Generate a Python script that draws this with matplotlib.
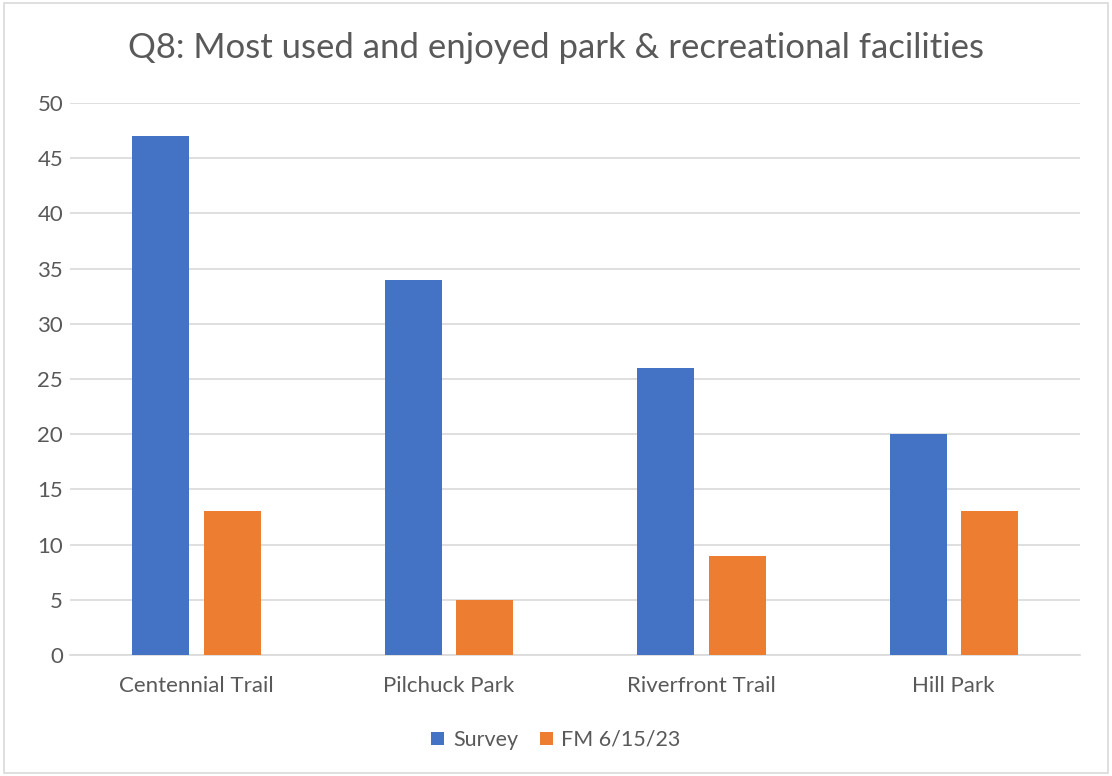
import matplotlib
matplotlib.use("Agg")
import matplotlib.pyplot as plt
from matplotlib.patches import Rectangle
import numpy as np

categories = ["Centennial Trail", "Pilchuck Park", "Riverfront Trail", "Hill Park"]
survey = [47, 34, 26, 20]
fm = [13, 5, 9, 13]
series_names = ["Survey", "FM 6/15/23"]
yticks = [0, 5, 10, 15, 20, 25, 30, 35, 40, 45, 50]

plt.rcParams['font.family'] = ['Lato', 'DejaVu Sans']
txt = '#595959'

fig = plt.figure(figsize=(11.12, 7.76), dpi=100)
fig.patches.append(Rectangle((0.004, 0.004), 0.992, 0.992, transform=fig.transFigure,
                             fill=False, edgecolor='#d9d9d9', linewidth=1.2))
ax = fig.add_axes([70/1112, 121/776, 1010/1112, 552/776])

x = np.arange(len(categories))
w = 0.225
ax.bar(x - 0.141, survey, w, color='#4472C4', label=series_names[0], zorder=3)
ax.bar(x + 0.143, fm, w, color='#ED7D31', label=series_names[1], zorder=3)

ax.set_xlim(-0.5, len(categories) - 0.5)
ax.set_ylim(0, 50)
ax.set_yticks(yticks)
ax.set_xticks(x)
ax.set_xticklabels(categories)
ax.grid(axis='y', color='#d9d9d9', linewidth=1.2, zorder=0)
for s in ['top', 'right', 'left']:
    ax.spines[s].set_visible(False)
ax.spines['bottom'].set_color('#d9d9d9')
ax.spines['bottom'].set_linewidth(1.2)
ax.tick_params(axis='both', length=0, colors=txt, labelsize=16)
ax.tick_params(axis='x', pad=15)
ax.tick_params(axis='y', pad=5)

fig.text(0.5, 1 - 48/776, "Q8: Most used and enjoyed park & recreational facilities",
         ha='center', va='center', fontsize=25, color=txt)

leg = fig.legend(loc='center', bbox_to_anchor=(0.5, 1 - 740/776), ncol=2, frameon=False,
                 fontsize=15.5, handlelength=0.6, handleheight=0.6, columnspacing=1.0,
                 handletextpad=0.4)
for t in leg.get_texts():
    t.set_color(txt)

fig.savefig("out.png", dpi=100)
